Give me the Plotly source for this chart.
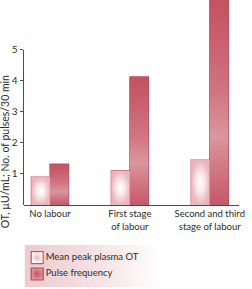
import plotly.graph_objects as go

categories = ["No labour", "First stage<br>of labour", "Second and third<br>stage of labour"]
peak_ot = [0.9, 1.1, 1.45]
pulse_freq = [1.32, 4.13, 6.7]
y_ticks = [1, 2, 3, 4, 5]
series_names = ["Mean peak plasma OT", "Pulse frequency"]

FONT = "Lato"
TXT = "#2b2b2b"
AX = "#4a4a4a"
LIGHT_LINE = "#c45566"
DARK_LINE = "#b64a5a"
BAR_W = 0.233

x_idx = list(range(len(categories)))

fig = go.Figure()

# gradient fills for the bars (drawn from the data arrays)
light_scale = [[0, "#ffffff"], [0.45, "#f9e6e8"], [1, "#e9b6bc"]]
dark_scale = [[0, "#c65766"], [0.12, "#cd6e7b"], [0.33, "#d9969f"],
              [0.55, "#d07481"], [0.8, "#c95f6d"], [1, "#c4515f"]]
for i, v in zip(x_idx, peak_ot):
    x0, x1 = i - BAR_W, i
    fig.add_trace(go.Scatter(
        x=[x0, x1, x1, x0, x0], y=[0, 0, v, v, 0], mode="lines", line=dict(width=0),
        fill="toself", fillgradient=dict(type="radial", colorscale=light_scale),
        showlegend=False, hoverinfo="skip"))
for i, v in zip(x_idx, pulse_freq):
    x0, x1 = i, i + BAR_W
    fig.add_trace(go.Scatter(
        x=[x0, x1, x1, x0, x0], y=[0, 0, v, v, 0], mode="lines", line=dict(width=0),
        fill="toself", fillgradient=dict(type="vertical", colorscale=dark_scale),
        showlegend=False, hoverinfo="skip"))

fig.add_trace(go.Bar(
    x=x_idx, y=peak_ot, name=series_names[0],
    marker=dict(color="rgba(0,0,0,0)", line=dict(color=LIGHT_LINE, width=1.2)),
    width=BAR_W, offset=-BAR_W, showlegend=False,
))
fig.add_trace(go.Bar(
    x=x_idx, y=pulse_freq, name=series_names[1],
    marker=dict(color="rgba(0,0,0,0)", line=dict(color=DARK_LINE, width=1.2)),
    width=BAR_W, offset=0, showlegend=False,
))

# legend background with horizontal gradient
fig.add_trace(go.Scatter(
    x=[0, 1, 1, 0, 0], y=[0, 0, 1, 1, 0], xaxis="x2", yaxis="y2",
    mode="lines", line=dict(width=0), fill="toself",
    fillgradient=dict(type="horizontal",
                      colorscale=[[0, "#eccacd"], [0.35, "#f6e4e6"], [0.62, "#ffffff"], [1, "#ffffff"]]),
    showlegend=False, hoverinfo="skip",
))
# legend entries
fig.add_trace(go.Scatter(
    x=[0.057, 0.057], y=[0.70, 0.31], xaxis="x2", yaxis="y2",
    mode="markers+text", text=series_names, textposition="middle right",
    textfont=dict(size=9.5, color=TXT, family=FONT),
    marker=dict(symbol="square", size=12, color=["#ffffff", "#dc97a0"],
                gradient=dict(type="radial", color=["#eab4ba", "#c4515f"]),
                line=dict(color=[LIGHT_LINE, DARK_LINE], width=1.2)),
    showlegend=False, hoverinfo="skip", cliponaxis=False,
))

fig.update_layout(
    width=252, height=289,
    margin=dict(l=0, r=0, t=0, b=0),
    paper_bgcolor="white", plot_bgcolor="white",
    font=dict(family=FONT, size=10, color=TXT),
    barmode="overlay",
    xaxis=dict(domain=[24/252, 244/252], range=[-0.331, 2.368],
               tickvals=x_idx, ticktext=categories, showgrid=False, zeroline=False,
               showline=True, linecolor=AX, linewidth=1, ticks="",
               tickfont=dict(size=9.5, color=TXT)),
    yaxis=dict(domain=[84/289, 1], range=[0, 6.61], tickvals=y_ticks,
               showgrid=False, zeroline=False, showline=False,
               ticks="outside", ticklen=3, tickcolor=AX, tickwidth=1,
               tickfont=dict(size=10, color=TXT)),
    xaxis2=dict(domain=[25/252, 1], range=[0, 1], visible=False, fixedrange=True),
    yaxis2=dict(domain=[2/289, 44/289], range=[0, 1], visible=False, fixedrange=True),
    showlegend=False,
)

fig.add_shape(type="line", xref="x domain", yref="y", x0=0, x1=0, y0=0, y1=5,
              line=dict(color=AX, width=1))

fig.add_annotation(text="OT, µU/mL; No. of pulses/30 min", xref="paper", yref="y",
                   x=6/252, y=2.5, yshift=-24, textangle=-90, showarrow=False,
                   font=dict(size=10.5, color=TXT), xanchor="center", yanchor="middle")

fig.write_html("out.html")
